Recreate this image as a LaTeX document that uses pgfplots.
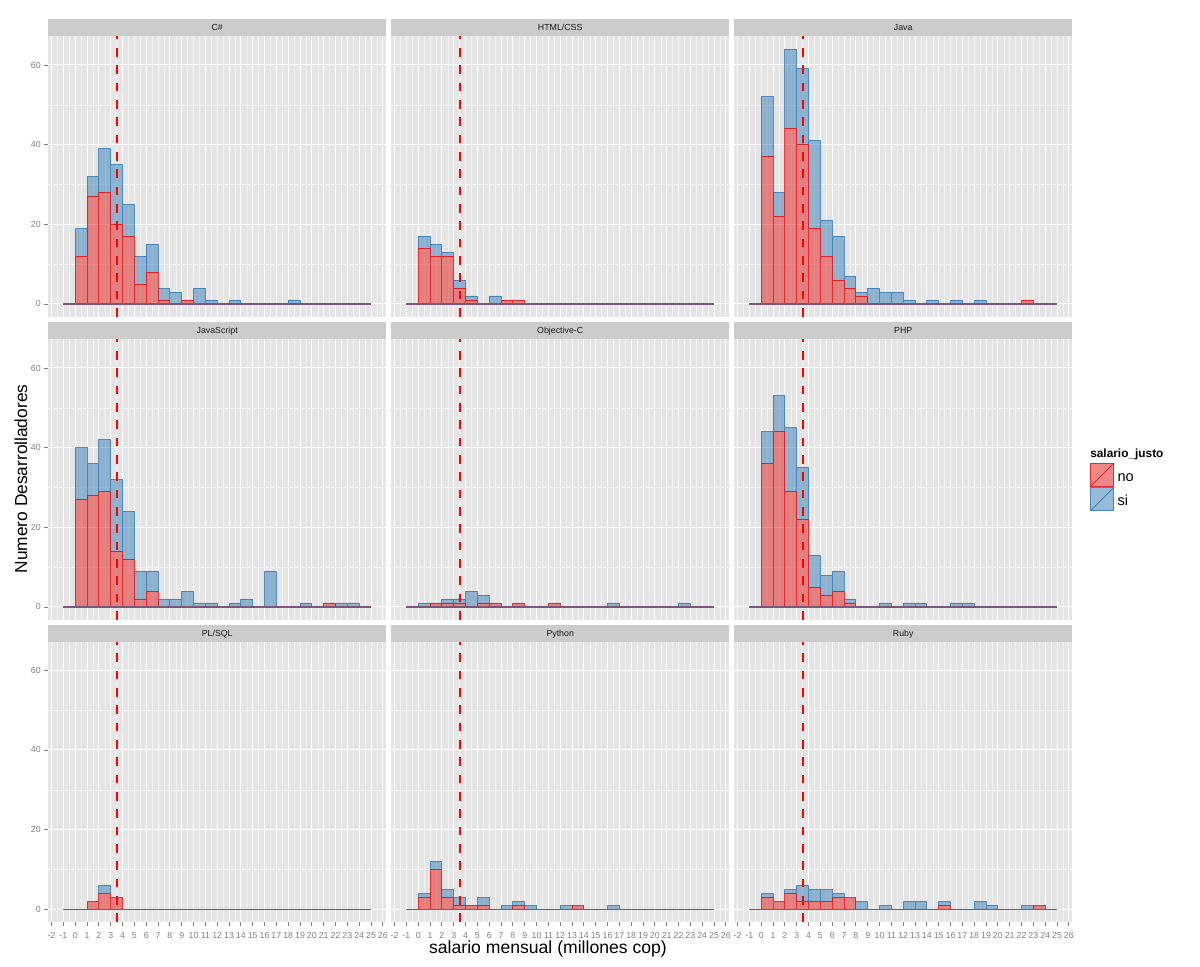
\documentclass[border=0pt]{standalone}
\usepackage{fontspec}
\setmainfont{Liberation Sans}
\usepackage{pgfplots}
\usepackage{pgfplotstable}
\pgfplotsset{compat=1.18}

\definecolor{ggbg}{HTML}{E5E5E5}
\definecolor{ggminor}{HTML}{F2F2F2}
\definecolor{ggstrip}{HTML}{CCCCCC}
\definecolor{gg50}{HTML}{7F7F7F}
\definecolor{ggtext}{HTML}{1A1A1A}
\definecolor{setred}{HTML}{E41A1C}
\definecolor{setblue}{HTML}{377EB8}
\definecolor{vred}{HTML}{FF0000}

% b = bin start (bins of width 1), no / si = counts
\pgfplotstableread[row sep=\\]{
b no si\\
-1 0 0\\ 0 12 7\\ 1 27 5\\ 2 28 11\\ 3 20 15\\ 4 17 8\\ 5 5 7\\ 6 8 7\\ 7 1 3\\ 8 0 3\\ 9 1 0\\ 10 0 4\\ 11 0 1\\ 12 0 0\\ 13 0 1\\ 14 0 0\\ 15 0 0\\ 16 0 0\\ 17 0 0\\ 18 0 1\\ 19 0 0\\ 20 0 0\\ 21 0 0\\ 22 0 0\\ 23 0 0\\ 24 0 0\\
}\tCS
\pgfplotstableread[row sep=\\]{
b no si\\
-1 0 0\\ 0 14 3\\ 1 12 3\\ 2 12 1\\ 3 4 2\\ 4 1 1\\ 5 0 0\\ 6 0 2\\ 7 1 0\\ 8 1 0\\ 9 0 0\\ 10 0 0\\ 11 0 0\\ 12 0 0\\ 13 0 0\\ 14 0 0\\ 15 0 0\\ 16 0 0\\ 17 0 0\\ 18 0 0\\ 19 0 0\\ 20 0 0\\ 21 0 0\\ 22 0 0\\ 23 0 0\\ 24 0 0\\
}\tHTML
\pgfplotstableread[row sep=\\]{
b no si\\
-1 0 0\\ 0 37 15\\ 1 22 6\\ 2 44 20\\ 3 40 19\\ 4 19 22\\ 5 12 9\\ 6 6 11\\ 7 4 3\\ 8 2 1\\ 9 0 4\\ 10 0 3\\ 11 0 3\\ 12 0 1\\ 13 0 0\\ 14 0 1\\ 15 0 0\\ 16 0 1\\ 17 0 0\\ 18 0 1\\ 19 0 0\\ 20 0 0\\ 21 0 0\\ 22 1 0\\ 23 0 0\\ 24 0 0\\
}\tJava
\pgfplotstableread[row sep=\\]{
b no si\\
-1 0 0\\ 0 27 13\\ 1 28 8\\ 2 29 13\\ 3 14 18\\ 4 12 12\\ 5 2 7\\ 6 4 5\\ 7 0 2\\ 8 0 2\\ 9 0 4\\ 10 0 1\\ 11 0 1\\ 12 0 0\\ 13 0 1\\ 14 0 2\\ 15 0 0\\ 16 0 9\\ 17 0 0\\ 18 0 0\\ 19 0 1\\ 20 0 0\\ 21 1 0\\ 22 0 1\\ 23 0 1\\ 24 0 0\\
}\tJS
\pgfplotstableread[row sep=\\]{
b no si\\
-1 0 0\\ 0 0 1\\ 1 1 0\\ 2 1 1\\ 3 1 1\\ 4 0 4\\ 5 1 2\\ 6 1 0\\ 7 0 0\\ 8 1 0\\ 9 0 0\\ 10 0 0\\ 11 1 0\\ 12 0 0\\ 13 0 0\\ 14 0 0\\ 15 0 0\\ 16 0 1\\ 17 0 0\\ 18 0 0\\ 19 0 0\\ 20 0 0\\ 21 0 0\\ 22 0 1\\ 23 0 0\\ 24 0 0\\
}\tObjC
\pgfplotstableread[row sep=\\]{
b no si\\
-1 0 0\\ 0 36 8\\ 1 44 9\\ 2 29 16\\ 3 22 13\\ 4 5 8\\ 5 3 5\\ 6 4 5\\ 7 1 1\\ 8 0 0\\ 9 0 0\\ 10 0 1\\ 11 0 0\\ 12 0 1\\ 13 0 1\\ 14 0 0\\ 15 0 0\\ 16 0 1\\ 17 0 1\\ 18 0 0\\ 19 0 0\\ 20 0 0\\ 21 0 0\\ 22 0 0\\ 23 0 0\\ 24 0 0\\
}\tPHP
\pgfplotstableread[row sep=\\]{
b no si\\
-1 0 0\\ 0 0 0\\ 1 2 0\\ 2 4 2\\ 3 3 0\\ 4 0 0\\ 5 0 0\\ 6 0 0\\ 7 0 0\\ 8 0 0\\ 9 0 0\\ 10 0 0\\ 11 0 0\\ 12 0 0\\ 13 0 0\\ 14 0 0\\ 15 0 0\\ 16 0 0\\ 17 0 0\\ 18 0 0\\ 19 0 0\\ 20 0 0\\ 21 0 0\\ 22 0 0\\ 23 0 0\\ 24 0 0\\
}\tPLSQL
\pgfplotstableread[row sep=\\]{
b no si\\
-1 0 0\\ 0 3 1\\ 1 10 2\\ 2 3 2\\ 3 1 2\\ 4 1 0\\ 5 1 2\\ 6 0 0\\ 7 0 1\\ 8 1 1\\ 9 0 1\\ 10 0 0\\ 11 0 0\\ 12 0 1\\ 13 1 0\\ 14 0 0\\ 15 0 0\\ 16 0 1\\ 17 0 0\\ 18 0 0\\ 19 0 0\\ 20 0 0\\ 21 0 0\\ 22 0 0\\ 23 0 0\\ 24 0 0\\
}\tPy
\pgfplotstableread[row sep=\\]{
b no si\\
-1 0 0\\ 0 3 1\\ 1 2 0\\ 2 4 1\\ 3 2 4\\ 4 2 3\\ 5 2 3\\ 6 3 1\\ 7 3 0\\ 8 0 2\\ 9 0 0\\ 10 0 1\\ 11 0 0\\ 12 0 2\\ 13 0 2\\ 14 0 0\\ 15 1 1\\ 16 0 0\\ 17 0 0\\ 18 0 2\\ 19 0 1\\ 20 0 0\\ 21 0 0\\ 22 0 1\\ 23 1 0\\ 24 0 0\\
}\tRuby

\pgfplotsset{
  frame/.style={
    scale only axis, width=253.8pt, height=210.3pt,
    anchor=north west,
    xmin=-2.3, xmax=26.3, ymin=-3.2, ymax=67.2,
  },
  panel/.style={
    frame,
    ybar stacked, bar width=1,
    axis background/.style={fill=ggbg},
    axis line style={draw=none},
    xtick={-2,-1,...,26}, ytick={0,20,40,60},
    minor xtick={-1.5,-0.5,...,25.5}, minor ytick={10,30,50},
    grid=both,
    major grid style={draw=white, line width=0.75pt},
    minor grid style={draw=ggminor, line width=0.4pt},
    tick align=outside, xtick pos=left, ytick pos=left,
    major tick length=3pt, minor tick length=0pt,
    tick style={draw=gg50, line width=0.6pt},
    /pgf/number format/assume math mode=true,
    tick label style={font=\fontsize{6.6}{7}\selectfont, text=gg50},
    xticklabel style={inner sep=0pt, yshift=-4.5pt},
    yticklabel style={inner sep=0pt, xshift=-2.25pt},
  },
  ovl/.style={frame, axis lines=none, xtick=\empty, ytick=\empty},
  nox/.style={xticklabels={}, xtick style={draw=none}},
  noy/.style={yticklabels={}, ytick style={draw=none}},
  keyimg/.style={legend image code/.code={
      \fill[ggminor] (0pt,-4pt) rectangle (17.5pt,13.5pt);
      \draw[##1, line width=0.5pt] (0pt,-4pt) rectangle (17.5pt,13.5pt);
      \draw[##1, line width=0.6pt] (0pt,-4pt) -- (17.5pt,13.5pt);}},
  nobar/.style={draw=setred, fill=setred, fill opacity=0.5, draw opacity=0.85, line width=0.7pt, keyimg},
  sibar/.style={draw=setblue, fill=setblue, fill opacity=0.5, draw opacity=0.85, line width=0.7pt, keyimg},
  vline/.style={sharp plot, draw=vred, line width=1.6pt, dash pattern=on 6.5pt off 6.5pt},
}

\newcommand{\panelplots}[1]{%
  \addplot[nobar] table[x expr=\thisrow{b}+0.5, y=no]{#1};
  \addplot[sibar] table[x expr=\thisrow{b}+0.5, y=si]{#1};
}
% zero line of the histogram outline (bins -1 .. 25) and the reference line
\newcommand{\refl}[1]{%
  \begin{axis}[ovl, at={#1}]
  \addplot[sharp plot, draw=setred, line width=0.9pt] coordinates {(-1,0) (25,0)};
  \addplot[sharp plot, draw=setblue, draw opacity=0.6, line width=0.9pt] coordinates {(-1,0) (25,0)};
  \addplot[vline] coordinates {(3.53,-3.2) (3.53,67.2)};
  \end{axis}}

\begin{document}
\begin{tikzpicture}
\path[use as bounding box] (0pt,0pt) rectangle (900pt,-725.25pt);

% row 1
\begin{axis}[panel, nox, at={(36pt,-27.225pt)}]
\panelplots{\tCS}
\end{axis}
\refl{(36pt,-27.225pt)}
\begin{axis}[panel, nox, noy, at={(293.25pt,-27.225pt)}]
\panelplots{\tHTML}
\end{axis}
\refl{(293.25pt,-27.225pt)}
\begin{axis}[panel, nox, noy, at={(550.5pt,-27.225pt)}]
\panelplots{\tJava}
\end{axis}
\refl{(550.5pt,-27.225pt)}
% row 2
\begin{axis}[panel, nox, at={(36pt,-254.475pt)}]
\panelplots{\tJS}
\end{axis}
\refl{(36pt,-254.475pt)}
\begin{axis}[panel, nox, noy, at={(293.25pt,-254.475pt)}]
\panelplots{\tObjC}
\end{axis}
\refl{(293.25pt,-254.475pt)}
\begin{axis}[panel, nox, noy, at={(550.5pt,-254.475pt)},
  legend style={at={(1.052,0.5599)}, anchor=north west, draw=none, fill=none,
    inner sep=0pt, outer sep=0pt, row sep=0pt, column sep=2.5pt,
    font=\fontsize{10.9}{12}\selectfont, nodes={inner sep=0pt, anchor=base west}},
  legend cell align=left]
\panelplots{\tPHP}
\legend{no,si}
\end{axis}
\refl{(550.5pt,-254.475pt)}
% row 3
\begin{axis}[panel, at={(36pt,-481.2pt)}]
\panelplots{\tPLSQL}
\end{axis}
\refl{(36pt,-481.2pt)}
\begin{axis}[panel, noy, at={(293.25pt,-481.2pt)}]
\panelplots{\tPy}
\end{axis}
\refl{(293.25pt,-481.2pt)}
\begin{axis}[panel, noy, at={(550.5pt,-481.2pt)}]
\panelplots{\tRuby}
\end{axis}
\refl{(550.5pt,-481.2pt)}

% strips
\foreach \yy in {27.225,254.475,481.2}{
  \foreach \xx in {36,293.25,550.5}{
    \fill[ggstrip] (\xx pt,-\yy pt+12.75pt) rectangle (\xx pt+253.8pt,-\yy pt);
  }
}
\tikzset{strip/.style={anchor=base, inner sep=0pt, font=\fontsize{6.6}{7}\selectfont, text=ggtext}}
\node[strip] at (162.9pt,-23.21pt) {C\#};
\node[strip] at (420.15pt,-23.21pt) {HTML/CSS};
\node[strip] at (677.4pt,-23.21pt) {Java};
\node[strip] at (162.9pt,-250.46pt) {JavaScript};
\node[strip] at (420.15pt,-250.46pt) {Objective-C};
\node[strip] at (677.4pt,-250.46pt) {PHP};
\node[strip] at (162.9pt,-477.19pt) {PL/SQL};
\node[strip] at (420.15pt,-477.19pt) {Python};
\node[strip] at (677.4pt,-477.19pt) {Ruby};

% axis titles
\node[rotate=90, anchor=base, inner sep=0pt, font=\fontsize{13}{15}\selectfont] at (20.25pt,-359.25pt) {Numero Desarrolladores};
\node[anchor=base, inner sep=0pt, font=\fontsize{13.2}{15}\selectfont] at (411pt,-714.75pt) {salario mensual (millones cop)};
% legend title
\node[anchor=base west, inner sep=0pt, font=\bfseries\fontsize{8.9}{10}\selectfont] at (817.5pt,-342.975pt) {salario\_justo};
\end{tikzpicture}
\end{document}
